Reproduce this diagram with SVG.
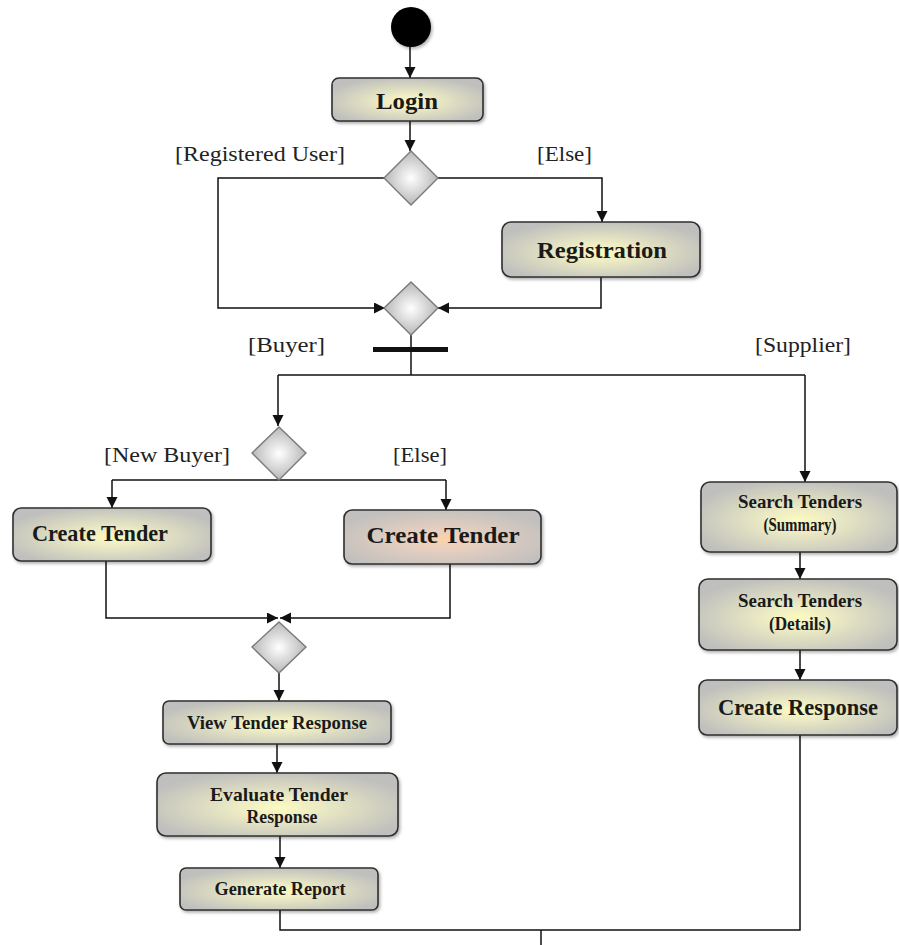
<svg xmlns="http://www.w3.org/2000/svg" width="899" height="945" viewBox="0 0 899 945">
  <defs>
    <radialGradient id="boxFill" cx="50%" cy="55%" r="58%">
      <stop offset="0" stop-color="#fcfac0"/>
      <stop offset="0.3" stop-color="#ecebc4"/>
      <stop offset="1" stop-color="#bfbfbd"/>
    </radialGradient>
    <radialGradient id="boxFillWarm" cx="50%" cy="55%" r="58%">
      <stop offset="0" stop-color="#fbd2aa"/>
      <stop offset="0.3" stop-color="#e8d0c0"/>
      <stop offset="1" stop-color="#c2c0be"/>
    </radialGradient>
    <radialGradient id="diaFill" cx="50%" cy="50%" r="55%">
      <stop offset="0" stop-color="#ffffff"/>
      <stop offset="1" stop-color="#b0b0b0"/>
    </radialGradient>
    <filter id="shadow" x="-10%" y="-10%" width="125%" height="130%">
      <feDropShadow dx="1.5" dy="2" stdDeviation="1.5" flood-color="#000" flood-opacity="0.3"/>
    </filter>
    <marker id="arrow" markerUnits="userSpaceOnUse" markerWidth="12" markerHeight="12" refX="11" refY="5.5" orient="auto">
      <path d="M0,0 L11,5.5 L0,11 z" fill="#111"/>
    </marker>
  </defs>
  <style>
    .box { fill: url(#boxFill); stroke: #2f2f2f; stroke-width: 1.6; filter: url(#shadow); }
    .warm { fill: url(#boxFillWarm); }
    .dia { fill: url(#diaFill); stroke: #7a7a7a; stroke-width: 1.4; }
    .conn { fill: none; stroke: #111; stroke-width: 1.5; }
    .arr { marker-end: url(#arrow); }
    .lbl { font-family: "Liberation Serif", "Times New Roman", serif; font-size: 22px; fill: #222; }
    .nt { font-family: "Liberation Serif", "Times New Roman", serif; font-weight: bold; fill: #1a1a1a; text-anchor: middle; }
  </style>
  <rect width="899" height="945" fill="#ffffff"/>

  <!-- connectors -->
  <g id="connectors">
    <path class="conn arr" d="M410,47 V78"/>
    <path class="conn arr" d="M410,121 V151"/>
    <path class="conn arr" d="M385,178 H218 V308 H385"/>
    <path class="conn arr" d="M438,178 H602 V222"/>
    <path class="conn arr" d="M601,277 V308 H438"/>
    <path class="conn" d="M411,335 V375"/>
    <path class="conn" d="M278,375 H805"/>
    <path class="conn arr" d="M278,375 V426"/>
    <path class="conn arr" d="M805,375 V482"/>
    <path class="conn" d="M112,480 H446"/>
    <path class="conn arr" d="M112,480 V508"/>
    <path class="conn arr" d="M446,480 V510"/>
    <path class="conn arr" d="M106,561 V618 H278"/>
    <path class="conn arr" d="M450,564 V618 H280"/>
    <path class="conn arr" d="M279,673 V701"/>
    <path class="conn arr" d="M277,744 V773"/>
    <path class="conn arr" d="M280,836 V868"/>
    <path class="conn" d="M280,910 V930 H800 V735"/>
    <path class="conn" d="M541,930 V945"/>
    <path class="conn arr" d="M800,552 V579"/>
    <path class="conn arr" d="M800,650 V680"/>
  </g>

  <!-- start node -->
  <g id="start">
    <circle cx="411" cy="27" r="20" fill="#000" filter="url(#shadow)"/>
  </g>

  <g id="login">
    <rect class="box" x="332" y="78" width="151" height="43" rx="7"/>
    <text class="nt" x="407" y="109" font-size="24" textLength="62" lengthAdjust="spacingAndGlyphs">Login</text>
  </g>

  <g id="decision-user">
    <polygon class="dia" points="411,151 438,178 411,205 384,178"/>
  </g>

  <g id="registration">
    <rect class="box" x="502" y="222" width="198" height="55" rx="9"/>
    <text class="nt" x="602" y="258" font-size="24" textLength="130" lengthAdjust="spacingAndGlyphs">Registration</text>
  </g>

  <g id="merge-user">
    <polygon class="dia" points="411,282 438,308 411,335 384,308"/>
  </g>

  <g id="fork">
    <rect x="373" y="347" width="75" height="5" fill="#111"/>
  </g>

  <g id="decision-buyer">
    <polygon class="dia" points="279,427 306,453 279,480 252,453"/>
  </g>

  <g id="create-tender-new">
    <rect class="box" x="13" y="508" width="198" height="53" rx="8"/>
    <text class="nt" x="100" y="541" font-size="23" textLength="136" lengthAdjust="spacingAndGlyphs">Create Tender</text>
  </g>

  <g id="create-tender-else">
    <rect class="box warm" x="344" y="510" width="197" height="54" rx="8"/>
    <text class="nt" x="443" y="543" font-size="24" textLength="153" lengthAdjust="spacingAndGlyphs">Create Tender</text>
  </g>

  <g id="merge-tender">
    <polygon class="dia" points="279,622 306,647 279,673 252,647"/>
  </g>

  <g id="view-response">
    <rect class="box" x="163" y="701" width="228" height="43" rx="6"/>
    <text class="nt" x="277" y="729" font-size="18" textLength="180" lengthAdjust="spacingAndGlyphs">View Tender Response</text>
  </g>

  <g id="evaluate-response">
    <rect class="box" x="157" y="773" width="241" height="63" rx="9"/>
    <text class="nt" x="279" y="801" font-size="19" textLength="138" lengthAdjust="spacingAndGlyphs">Evaluate Tender</text>
    <text class="nt" x="282" y="823" font-size="19" textLength="71" lengthAdjust="spacingAndGlyphs">Response</text>
  </g>

  <g id="generate-report">
    <rect class="box" x="180" y="868" width="198" height="42" rx="6"/>
    <text class="nt" x="280" y="895" font-size="18" textLength="131" lengthAdjust="spacingAndGlyphs">Generate Report</text>
  </g>

  <g id="search-summary">
    <rect class="box" x="701" y="482" width="196" height="70" rx="9"/>
    <text class="nt" x="800" y="508" font-size="18" textLength="124" lengthAdjust="spacingAndGlyphs">Search Tenders</text>
    <text class="nt" x="800" y="531" font-size="18" textLength="73" lengthAdjust="spacingAndGlyphs">(Summary)</text>
  </g>

  <g id="search-details">
    <rect class="box" x="699" y="579" width="198" height="71" rx="9"/>
    <text class="nt" x="800" y="607" font-size="18" textLength="124" lengthAdjust="spacingAndGlyphs">Search Tenders</text>
    <text class="nt" x="800" y="630" font-size="18" textLength="62" lengthAdjust="spacingAndGlyphs">(Details)</text>
  </g>

  <g id="create-response">
    <rect class="box" x="699" y="680" width="198" height="55" rx="8"/>
    <text class="nt" x="798" y="715" font-size="24" textLength="160" lengthAdjust="spacingAndGlyphs">Create Response</text>
  </g>

  <!-- guard labels -->
  <g id="labels">
    <text class="lbl" x="175" y="161" textLength="170" lengthAdjust="spacingAndGlyphs">[Registered User]</text>
    <text class="lbl" x="537" y="161" textLength="55" lengthAdjust="spacingAndGlyphs">[Else]</text>
    <text class="lbl" x="248" y="352" textLength="77" lengthAdjust="spacingAndGlyphs">[Buyer]</text>
    <text class="lbl" x="755" y="352" textLength="96" lengthAdjust="spacingAndGlyphs">[Supplier]</text>
    <text class="lbl" x="104" y="462" textLength="126" lengthAdjust="spacingAndGlyphs">[New Buyer]</text>
    <text class="lbl" x="393" y="462" textLength="54" lengthAdjust="spacingAndGlyphs">[Else]</text>
  </g>
</svg>
